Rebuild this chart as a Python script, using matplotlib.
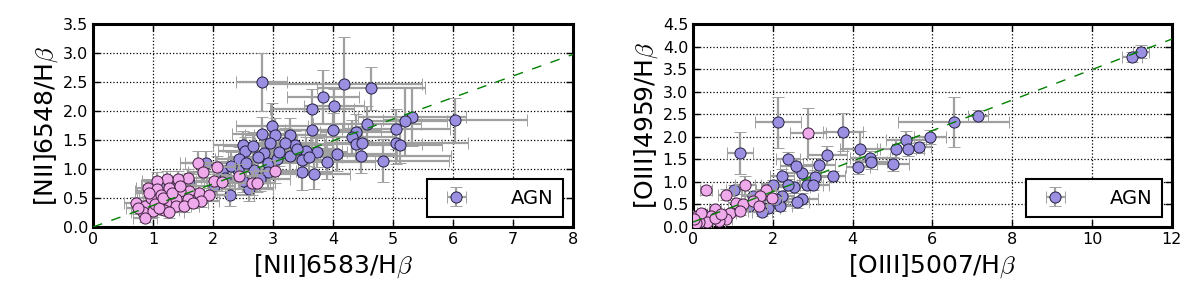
import numpy as np
import matplotlib
matplotlib.use("Agg")
import matplotlib.pyplot as plt

# [NII] panel, AGN
nii_agn_x = [2.81, 4.18, 4.63, 3.83, 4.01, 3.65, 6.04, 5.31, 5.20, 4.57, 5.05, 4.00, 3.65,
             4.38, 2.81, 2.99, 3.04, 3.29, 4.31, 2.50, 2.53, 3.36, 4.38, 4.49, 5.05, 5.12,
             4.06, 4.46, 4.83, 3.90, 3.73, 3.55, 3.49, 3.68, 3.48, 2.85, 2.92, 3.07, 2.44,
             2.69, 2.41, 2.28, 2.60, 3.20, 2.95, 2.66, 2.15, 1.89, 2.92, 3.29, 2.79, 2.02,
             0.95, 1.10, 1.35, 1.60, 2.30, 2.55, 3.10, 3.40, 2.75, 3.60, 2.20, 2.50]
nii_agn_y = [2.50, 2.47, 2.39, 2.25, 2.08, 2.03, 1.84, 1.90, 1.82, 1.78, 1.69, 1.67, 1.68,
             1.64, 1.61, 1.75, 1.58, 1.58, 1.55, 1.41, 1.31, 1.41, 1.43, 1.45, 1.44, 1.41,
             1.26, 1.23, 1.14, 1.12, 1.29, 1.31, 1.15, 0.91, 0.94, 1.28, 1.11, 1.18, 1.18,
             0.99, 0.99, 0.56, 0.65, 1.45, 1.45, 1.39, 0.94, 1.11, 0.94, 1.22, 0.82, 0.71,
             0.62, 0.72, 0.66, 0.78, 1.05, 1.10, 1.30, 1.35, 1.20, 1.20, 0.85, 0.80]
nii_agn_xerr = [0.43, 1.30, 0.90, 0.60, 0.50, 0.70, 1.20, 0.90, 0.70, 0.90, 0.90, 0.80, 0.60,
                0.60, 0.50, 0.60, 0.50, 0.60, 0.70, 0.50, 0.45, 0.50, 1.10, 0.60, 1.20, 0.70,
                1.00, 1.50, 1.10, 0.80, 0.50, 0.60, 0.50, 0.60, 0.50, 0.40, 0.50, 0.50, 0.40,
                0.40, 0.40, 0.40, 0.40, 0.50, 0.40, 0.50, 0.40, 0.35, 0.50, 0.50, 0.50, 0.35,
                0.25, 0.30, 0.30, 0.30, 0.45, 0.50, 0.55, 0.60, 0.50, 0.55, 0.40, 0.45]
nii_agn_yerr = [0.50, 0.80, 0.37, 0.45, 0.30, 0.35, 0.39, 0.50, 0.60, 0.30, 0.35, 0.30, 0.30,
                0.30, 0.28, 0.38, 0.30, 0.30, 0.30, 0.25, 0.25, 0.25, 0.30, 0.30, 0.35, 0.30,
                0.30, 0.30, 0.37, 0.30, 0.25, 0.25, 0.25, 0.25, 0.30, 0.25, 0.25, 0.25, 0.20,
                0.20, 0.20, 0.20, 0.20, 0.25, 0.30, 0.25, 0.20, 0.20, 0.25, 0.25, 0.20, 0.20,
                0.15, 0.15, 0.15, 0.15, 0.25, 0.25, 0.25, 0.25, 0.25, 0.25, 0.20, 0.20]

# [NII] panel, pink (non-AGN) points
nii_oth_x = [1.75, 2.07, 3.04, 2.65, 2.74, 2.44, 2.02, 2.15, 1.83, 1.58, 1.42, 1.24, 1.07,
             0.91, 1.07, 1.26, 1.77, 1.93, 1.60, 1.45, 0.71, 0.87, 0.97, 1.13, 1.26, 1.38,
             1.58, 1.80, 0.84, 1.00, 1.19, 1.38, 1.51, 1.03, 1.10, 0.75, 1.26, 1.67, 0.94,
             1.16, 1.32, 0.87, 1.45]
nii_oth_y = [1.11, 1.03, 0.96, 0.76, 0.76, 0.88, 0.79, 0.77, 0.94, 0.85, 0.82, 0.82, 0.79,
             0.68, 0.65, 0.68, 0.59, 0.56, 0.62, 0.62, 0.42, 0.36, 0.50, 0.56, 0.45, 0.48,
             0.49, 0.45, 0.25, 0.28, 0.30, 0.36, 0.36, 0.39, 0.33, 0.33, 0.25, 0.42, 0.59,
             0.50, 0.59, 0.16, 0.71]
nii_oth_xerr = [0.30, 0.30, 0.35, 0.30, 0.30, 0.30, 0.30, 0.30, 0.25, 0.30, 0.25, 0.25, 0.25,
                0.20, 0.25, 0.25, 0.30, 0.30, 0.25, 0.25, 0.20, 0.20, 0.20, 0.25, 0.25, 0.25,
                0.25, 0.30, 0.20, 0.20, 0.25, 0.25, 0.25, 0.20, 0.20, 0.20, 0.25, 0.25, 0.20,
                0.25, 0.25, 0.20, 0.25]
nii_oth_yerr = [0.20, 0.20, 0.20, 0.20, 0.15, 0.20, 0.15, 0.15, 0.15, 0.15, 0.15, 0.15, 0.15,
                0.15, 0.12, 0.12, 0.12, 0.12, 0.12, 0.12, 0.10, 0.10, 0.10, 0.12, 0.10, 0.10,
                0.10, 0.10, 0.10, 0.10, 0.10, 0.10, 0.10, 0.10, 0.10, 0.10, 0.10, 0.10, 0.12,
                0.10, 0.12, 0.08, 0.12]

# [OIII] panel, AGN
oiii_agn_x = [11.00, 11.24, 7.15, 6.53, 5.95, 5.67, 5.33, 5.10, 5.39, 5.02, 4.18, 4.43, 4.45,
              4.14, 3.76, 2.13, 1.17, 3.35, 3.15, 2.39, 3.51, 3.06, 2.73, 2.58, 2.22, 2.00,
              2.54, 2.85, 3.00, 2.73, 2.60, 2.19, 1.89, 1.74, 2.23, 1.50, 1.02, 1.41, 1.69,
              2.08, 2.38]
oiii_agn_y = [3.77, 3.89, 2.47, 2.33, 1.99, 1.77, 1.92, 1.74, 1.72, 1.40, 1.73, 1.53, 1.44,
              1.33, 2.11, 2.32, 1.64, 1.59, 1.37, 1.51, 1.13, 1.11, 1.20, 1.35, 1.14, 0.93,
              0.88, 0.94, 0.94, 0.63, 0.55, 0.46, 0.43, 0.34, 0.69, 0.69, 0.83, 0.46, 0.61,
              0.61, 0.94]
oiii_agn_xerr = [0.25, 0.20, 0.25, 1.40, 0.40, 0.30, 0.50, 0.50, 0.40, 0.40, 0.50, 0.50, 0.40,
                 0.30, 0.50, 0.57, 0.33, 0.50, 0.40, 0.30, 0.30, 0.40, 0.40, 0.40, 0.30, 0.30,
                 0.40, 0.40, 0.40, 0.40, 0.30, 0.30, 0.30, 0.25, 0.30, 0.30, 0.20, 0.25, 0.30,
                 0.30, 0.30]
oiii_agn_yerr = [0.12, 0.15, 0.12, 0.55, 0.15, 0.12, 0.20, 0.20, 0.15, 0.15, 0.40, 0.15, 0.15,
                 0.15, 0.42, 0.57, 0.46, 0.20, 0.15, 0.15, 0.12, 0.15, 0.15, 0.15, 0.15, 0.12,
                 0.12, 0.12, 0.12, 0.12, 0.12, 0.10, 0.10, 0.10, 0.10, 0.10, 0.10, 0.10, 0.10,
                 0.10, 0.12]

# [OIII] panel, pink (non-AGN) points
oiii_oth_x = [2.89, 0.33, 1.31, 0.83, 1.82, 1.98, 1.69, 1.07, 1.26, 1.50, 1.65, 0.93, 1.17,
              0.55, 0.26, 0.45, 0.11, 0.83, 0.64, 0.35, 0.16, 0.07, 0.55, 0.21, 0.69, 0.02]
oiii_oth_y = [2.09, 0.81, 0.93, 0.72, 0.82, 0.65, 0.69, 0.54, 0.50, 0.58, 0.46, 0.32, 0.35,
              0.39, 0.28, 0.24, 0.24, 0.17, 0.13, 0.10, 0.11, 0.08, 0.20, 0.32, 0.28, 0.17]
oiii_oth_xerr = [0.45, 0.15, 0.25, 0.20, 0.25, 0.25, 0.25, 0.20, 0.20, 0.20, 0.20, 0.15, 0.20,
                 0.15, 0.10, 0.15, 0.10, 0.15, 0.15, 0.10, 0.10, 0.08, 0.15, 0.10, 0.15, 0.08]
oiii_oth_yerr = [0.55, 0.10, 0.20, 0.12, 0.15, 0.15, 0.12, 0.10, 0.10, 0.12, 0.10, 0.08, 0.08,
                 0.08, 0.08, 0.06, 0.06, 0.06, 0.05, 0.05, 0.05, 0.05, 0.06, 0.06, 0.06, 0.05]

# reference lines (slope, intercept)
nii_line = (0.372, 0.0)
oiii_line = (0.338, 0.11)

agn_color = '#9b8fe2'
oth_color = '#eeaaea'
err_color = '#a0a0a0'

plt.rcParams['font.family'] = 'DejaVu Sans'
plt.rcParams['mathtext.fontset'] = 'cm'

fig = plt.figure(figsize=(12, 3.08), dpi=100)
ax1 = fig.add_axes([0.0775, 0.263, 0.4, 0.659])
ax2 = fig.add_axes([0.5775, 0.263, 0.399, 0.659])


def panel(ax, ax_x, ax_y, ax_xe, ax_ye, ot_x, ot_y, ot_xe, ot_ye, line, xmax, ymax,
          xticks, yticks, xlabel, ylabel):
    ax.errorbar(ax_x, ax_y, xerr=ax_xe, yerr=ax_ye, fmt='o', ms=8, mfc=agn_color,
                mec='#202040', mew=0.7, ecolor=err_color, elinewidth=1.6, capsize=4,
                capthick=1.2, label='AGN', zorder=2)
    ax.errorbar(ot_x, ot_y, xerr=ot_xe, yerr=ot_ye, fmt='o', ms=8, mfc=oth_color,
                mec='#402040', mew=0.7, ecolor=err_color, elinewidth=1.6, capsize=4,
                capthick=1.2, zorder=3)
    xs = np.array([0, xmax])
    ax.plot(xs, line[0] * xs + line[1], '--', color='green', lw=1, dashes=(7, 7), zorder=4)
    ax.set_xlim(0, xmax)
    ax.set_ylim(0, ymax)
    ax.set_xticks(xticks)
    ax.set_yticks(yticks)
    ax.set_yticklabels(['%.1f' % v for v in yticks])
    ax.grid(True, color='black', linestyle=':', linewidth=0.9)
    ax.tick_params(direction='in', top=True, right=True, length=5, width=1, labelsize=11.5)
    for s in ax.spines.values():
        s.set_linewidth(2.2)
    ax.set_xlabel(xlabel, fontsize=18, labelpad=4)
    ax.set_ylabel(ylabel, fontsize=18, labelpad=2)
    leg = ax.legend(loc='lower right', numpoints=1, fancybox=False, fontsize=14,
                    handletextpad=1.8, borderpad=0.5, handlelength=2.0)
    leg.get_frame().set_edgecolor('black')
    leg.get_frame().set_linewidth(1.5)
    leg.get_frame().set_alpha(1)


panel(ax1, nii_agn_x, nii_agn_y, nii_agn_xerr, nii_agn_yerr,
      nii_oth_x, nii_oth_y, nii_oth_xerr, nii_oth_yerr, nii_line, 8, 3.5,
      np.arange(0, 9, 1), np.arange(0, 3.51, 0.5),
      r'[NII]6583/H$\beta$', r'[NII]6548/H$\beta$')
panel(ax2, oiii_agn_x, oiii_agn_y, oiii_agn_xerr, oiii_agn_yerr,
      oiii_oth_x, oiii_oth_y, oiii_oth_xerr, oiii_oth_yerr, oiii_line, 12, 4.5,
      np.arange(0, 13, 2), np.arange(0, 4.51, 0.5),
      r'[OIII]5007/H$\beta$', r'[OIII]4959/H$\beta$')

fig.savefig('out.png', dpi=100)
